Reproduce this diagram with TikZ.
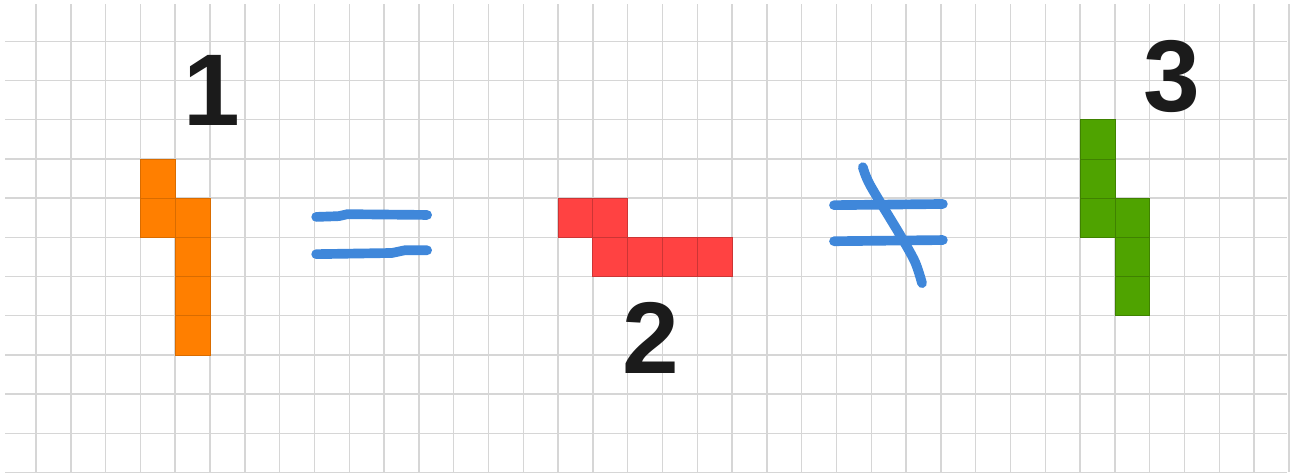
\documentclass[tikz,border=0pt]{standalone}
\usepackage{fontspec}
\setmainfont{Liberation Sans}
\usepackage{xcolor}
\usetikzlibrary{positioning}
\definecolor{gridgray}{HTML}{D6D6D6}
\definecolor{pieceorange}{HTML}{FF7F00}
\definecolor{piecered}{HTML}{FF4242}
\definecolor{piecegreen}{HTML}{4FA300}
\definecolor{penblue}{HTML}{3F87DA}
\definecolor{digitblack}{HTML}{1B1B1B}
\tikzset{
    grid line/.style={draw=gridgray, line width=0.8pt},
    piece cell/.style={line width=0.35pt},
    piece orange/.style={piece cell, fill=pieceorange, draw=pieceorange!85!black},
    piece red/.style={piece cell, fill=piecered, draw=piecered!80!black},
    piece green/.style={piece cell, fill=piecegreen, draw=piecegreen!80!black},
    pen stroke/.style={draw=penblue, line width=5.5pt, line cap=round, line join=round},
    piece label/.style={inner sep=0pt, text=digitblack, font=\fontsize{58}{58}\selectfont\bfseries}
}

\begin{document}
\begin{tikzpicture}[x=0.696cm, y=-0.784cm]
    \fill[white] (-1.0345,-1.0536) rectangle (36.0345,11.0128);
    \useasboundingbox (-1.0345,-1.0536) rectangle (36.0345,11.0128);

    % squared paper
    \foreach \c in {0,...,36}
        \draw[grid line] (\c,-0.95) -- (\c,10.99);
    \foreach \r in {0,...,11}
        \draw[grid line] (-0.89,\r) -- (35.96,\r);

    % pieces
    \foreach \c/\r in {3/3,3/4,4/4,4/5,4/6,4/7}
        \filldraw[piece orange] (\c,\r) rectangle ++(1,1);
    \foreach \c/\r in {15/4,16/4,16/5,17/5,18/5,19/5}
        \filldraw[piece red] (\c,\r) rectangle ++(1,1);
    \foreach \c/\r in {30/2,30/3,30/4,31/4,31/5,31/6}
        \filldraw[piece green] (\c,\r) rectangle ++(1,1);

    % labels
    \node[piece label] (label one) at (5.06,1.26) {1};
    \node[piece label] (label two) at (17.67,7.57) {2};
    \node[piece label] (label three) at (32.64,0.90) {3};

    % equal sign
    \draw[pen stroke] (8.05,4.48) -- (8.70,4.46) -- (8.95,4.41) -- (11.24,4.43);
    \draw[pen stroke] (8.05,5.43) -- (10.23,5.40) -- (10.60,5.33) -- (11.24,5.33);

    % not-equal sign
    \draw[pen stroke] (22.93,4.18) -- (26.06,4.15);
    \draw[pen stroke] (22.93,5.10) -- (26.06,5.07);
    \draw[pen stroke] plot[smooth] coordinates {(23.76,3.21) (23.97,3.67) (24.83,4.94) (25.26,5.63) (25.46,6.17)};
\end{tikzpicture}
\end{document}
